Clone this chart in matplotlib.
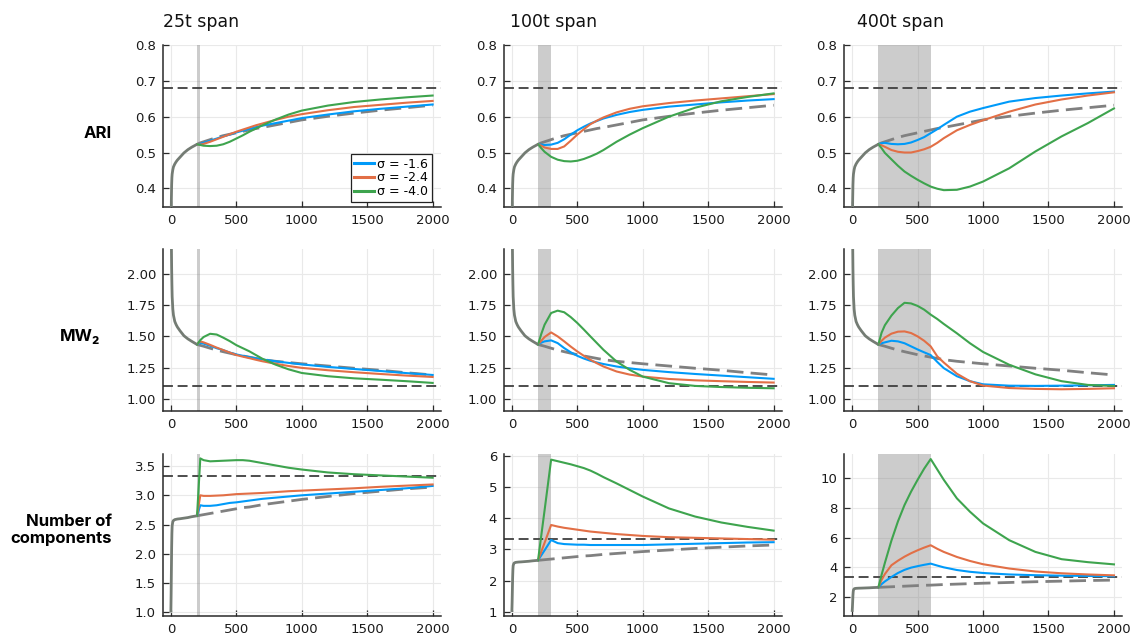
import matplotlib
matplotlib.use("Agg")
import matplotlib.pyplot as plt

# ---------------------------------------------------------------- data
# shared warm-up segment (before the perturbation starts at t = 200)
T_INIT = [0, 2, 4, 6, 8, 10, 15, 20, 30, 40, 50, 70, 100, 130, 160, 200]
ARI_INIT = [0.20, 0.30, 0.37, 0.41, 0.43, 0.44, 0.452, 0.46, 0.468, 0.474,
            0.479, 0.487, 0.499, 0.508, 0.515, 0.523]
MW2_INIT = [3.5, 2.6, 2.25, 2.05, 1.92, 1.82, 1.72, 1.67, 1.62, 1.595,
            1.575, 1.545, 1.505, 1.48, 1.46, 1.435]
NCOMP_INIT = [1.0, 1.3, 1.7, 2.1, 2.35, 2.48, 2.55, 2.57, 2.585, 2.59,
              2.595, 2.60, 2.61, 2.62, 2.635, 2.65]

# time grid after the perturbation onset
T_POST = [200, 225, 250, 300, 350, 400, 450, 500, 550, 600, 650, 700,
          800, 900, 1000, 1200, 1400, 1600, 1800, 2000]

# unperturbed reference trajectories
ARI_BASE = [.523, .527, .530, .536, .542, .547, .551, .555, .559, .563, .567,
            .570, .577, .584, .591, .601, .610, .618, .625, .632]
MW2_BASE = [1.435, 1.428, 1.421, 1.405, 1.390, 1.377, 1.365, 1.353, 1.343,
            1.333, 1.323, 1.313, 1.300, 1.290, 1.280, 1.262, 1.244, 1.228,
            1.208, 1.190]
NCOMP_BASE = [2.65, 2.66, 2.67, 2.69, 2.71, 2.73, 2.75, 2.77, 2.79, 2.80,
              2.82, 2.84, 2.87, 2.90, 2.93, 2.98, 3.03, 3.07, 3.11, 3.14]

# targets
ARI_TARGET = 0.68
MW2_TARGET = 1.10
NCOMP_TARGET = 3.33

SIGMAS = ["-1.6", "-2.4", "-4.0"]
SPANS = [25, 100, 400]

# ARI, 25t span
ari_25_s16 = [.523, .524, .527, .533, .539, .545, .550, .556, .561, .566, .571,
              .575, .582, .589, .596, .606, .615, .622, .628, .634]
ari_25_s24 = [.523, .522, .524, .530, .537, .544, .551, .558, .564, .570, .576,
              .581, .591, .600, .607, .618, .627, .633, .639, .644]
ari_25_s40 = [.523, .521, .519, .518, .519, .523, .530, .539, .548, .558, .567,
              .576, .592, .606, .617, .631, .641, .648, .654, .659]
# ARI, 100t span
ari_100_s16 = [.523, .522, .521, .522, .527, .537, .550, .562, .572, .581, .588,
               .595, .605, .613, .619, .628, .634, .640, .645, .649]
ari_100_s24 = [.523, .519, .514, .510, .510, .517, .533, .550, .565, .579, .589,
               .598, .612, .622, .629, .638, .645, .651, .657, .663]
ari_100_s40 = [.523, .512, .502, .488, .480, .476, .475, .477, .482, .489, .497,
               .507, .530, .550, .568, .600, .625, .643, .655, .665]
# ARI, 400t span
ari_400_s16 = [.523, .526, .527, .524, .523, .524, .528, .535, .543, .554, .565,
               .577, .600, .614, .624, .642, .652, .659, .665, .670]
ari_400_s24 = [.523, .520, .516, .507, .502, .500, .500, .504, .509, .516, .527,
               .540, .562, .577, .590, .614, .634, .648, .659, .668]
ari_400_s40 = [.523, .512, .499, .481, .463, .447, .435, .424, .414, .405, .399,
               .395, .396, .405, .419, .456, .503, .545, .582, .623]

# MW2, 25t span
mw2_25_s16 = [1.435, 1.447, 1.442, 1.425, 1.405, 1.390, 1.370, 1.355, 1.344,
              1.333, 1.323, 1.315, 1.300, 1.287, 1.275, 1.255, 1.238, 1.222,
              1.205, 1.190]
mw2_25_s24 = [1.435, 1.460, 1.452, 1.432, 1.410, 1.390, 1.370, 1.350, 1.337,
              1.325, 1.312, 1.300, 1.280, 1.262, 1.247, 1.228, 1.212, 1.198,
              1.185, 1.174]
mw2_25_s40 = [1.435, 1.470, 1.495, 1.521, 1.515, 1.490, 1.462, 1.430, 1.405,
              1.380, 1.350, 1.320, 1.273, 1.235, 1.206, 1.180, 1.163, 1.152,
              1.140, 1.126]
# MW2, 100t span
mw2_100_s16 = [1.435, 1.450, 1.460, 1.468, 1.446, 1.406, 1.372, 1.344, 1.322,
               1.304, 1.290, 1.278, 1.258, 1.243, 1.231, 1.213, 1.198, 1.185,
               1.172, 1.159]
mw2_100_s24 = [1.435, 1.465, 1.495, 1.532, 1.500, 1.460, 1.418, 1.379, 1.344,
               1.312, 1.284, 1.258, 1.218, 1.193, 1.177, 1.158, 1.147, 1.140,
               1.134, 1.129]
mw2_100_s40 = [1.435, 1.520, 1.594, 1.688, 1.707, 1.694, 1.655, 1.608, 1.555,
               1.500, 1.446, 1.392, 1.298, 1.231, 1.177, 1.124, 1.102, 1.093,
               1.087, 1.083]
# MW2, 400t span
mw2_400_s16 = [1.435, 1.445, 1.452, 1.465, 1.460, 1.445, 1.420, 1.395, 1.372,
               1.350, 1.295, 1.245, 1.180, 1.140, 1.115, 1.104, 1.102, 1.104,
               1.107, 1.110]
mw2_400_s24 = [1.435, 1.465, 1.490, 1.522, 1.538, 1.540, 1.527, 1.500, 1.465,
               1.420, 1.340, 1.290, 1.200, 1.140, 1.105, 1.085, 1.078, 1.075,
               1.078, 1.083]
mw2_400_s40 = [1.435, 1.530, 1.590, 1.667, 1.728, 1.770, 1.765, 1.745, 1.715,
               1.675, 1.640, 1.600, 1.525, 1.445, 1.375, 1.272, 1.195, 1.140,
               1.110, 1.102]

# number of components, 25t span
ncomp_25_s16 = [2.65, 2.83, 2.82, 2.82, 2.83, 2.85, 2.87, 2.88, 2.895, 2.91,
                2.925, 2.94, 2.96, 2.98, 3.00, 3.03, 3.06, 3.09, 3.12, 3.16]
ncomp_25_s24 = [2.65, 3.00, 2.99, 2.99, 2.995, 3.00, 3.01, 3.02, 3.025, 3.03,
                3.035, 3.04, 3.055, 3.07, 3.08, 3.10, 3.12, 3.145, 3.165, 3.185]
ncomp_25_s40 = [2.65, 3.63, 3.60, 3.58, 3.585, 3.59, 3.595, 3.60, 3.60, 3.59,
                3.57, 3.55, 3.51, 3.47, 3.44, 3.39, 3.36, 3.34, 3.32, 3.30]
# number of components, 100t span
ncomp_100_s16 = [2.65, 2.81, 2.97, 3.30, 3.20, 3.17, 3.16, 3.15, 3.15, 3.14,
                 3.14, 3.14, 3.14, 3.14, 3.14, 3.16, 3.18, 3.20, 3.22, 3.23]
ncomp_100_s24 = [2.65, 2.93, 3.21, 3.78, 3.73, 3.69, 3.66, 3.63, 3.60, 3.57,
                 3.55, 3.53, 3.49, 3.46, 3.43, 3.39, 3.37, 3.35, 3.33, 3.31]
ncomp_100_s40 = [2.65, 3.45, 4.25, 5.87, 5.82, 5.77, 5.72, 5.66, 5.60, 5.52,
                 5.42, 5.31, 5.11, 4.90, 4.69, 4.31, 4.05, 3.86, 3.72, 3.60]
# number of components, 400t span
ncomp_400_s16 = [2.65, 2.87, 3.05, 3.35, 3.62, 3.83, 3.98, 4.08, 4.17, 4.25,
                 4.12, 4.00, 3.82, 3.70, 3.62, 3.52, 3.47, 3.44, 3.42, 3.40]
ncomp_400_s24 = [2.65, 3.15, 3.55, 4.14, 4.45, 4.72, 4.95, 5.15, 5.33, 5.49,
                 5.25, 5.04, 4.70, 4.43, 4.21, 3.92, 3.72, 3.60, 3.52, 3.46]
ncomp_400_s40 = [2.65, 3.50, 4.30, 5.80, 7.10, 8.20, 9.10, 9.90, 10.65, 11.30,
                 10.60, 9.90, 8.65, 7.75, 6.96, 5.83, 5.04, 4.55, 4.35, 4.20]

# ---------------------------------------------------------------- style
BLUE, ORANGE, GREEN = "#009af9", "#e26f46", "#3ea44e"
COLORS = [BLUE, ORANGE, GREEN]
GRAY_SOLID = "#747c74"
GRAY_DASH = "#808080"
TARGET_COLOR = "#3f3f3f"

plt.rcParams["font.family"] = ["DejaVu Sans"]

W, H = 1132, 637
fig = plt.figure(figsize=(W / 100, H / 100), dpi=100)

col_left = [163, 504, 844.3]
col_width = 277.5
row_top = [45, 249.3, 454]
row_height = 162

rows = [
    dict(init=ARI_INIT, base=ARI_BASE, target=ARI_TARGET,
         series=[[ari_25_s16, ari_25_s24, ari_25_s40],
                 [ari_100_s16, ari_100_s24, ari_100_s40],
                 [ari_400_s16, ari_400_s24, ari_400_s40]],
         ylims=[(0.348, 0.8)] * 3,
         yticks=[[0.4, 0.5, 0.6, 0.7, 0.8]] * 3,
         fmt="{:.1f}"),
    dict(init=MW2_INIT, base=MW2_BASE, target=MW2_TARGET,
         series=[[mw2_25_s16, mw2_25_s24, mw2_25_s40],
                 [mw2_100_s16, mw2_100_s24, mw2_100_s40],
                 [mw2_400_s16, mw2_400_s24, mw2_400_s40]],
         ylims=[(0.898, 2.2)] * 3,
         yticks=[[1.0, 1.25, 1.5, 1.75, 2.0]] * 3,
         fmt="{:.2f}"),
    dict(init=NCOMP_INIT, base=NCOMP_BASE, target=NCOMP_TARGET,
         series=[[ncomp_25_s16, ncomp_25_s24, ncomp_25_s40],
                 [ncomp_100_s16, ncomp_100_s24, ncomp_100_s40],
                 [ncomp_400_s16, ncomp_400_s24, ncomp_400_s40]],
         ylims=[(0.94, 3.705), (0.87, 6.05), (0.72, 11.64)],
         yticks=[[1.0, 1.5, 2.0, 2.5, 3.0, 3.5], [1, 2, 3, 4, 5, 6],
                 [2, 4, 6, 8, 10]],
         fmt=None),
]
ncomp_fmts = ["{:.1f}", "{:d}", "{:d}"]

for r, row in enumerate(rows):
    for c, span in enumerate(SPANS):
        left = col_left[c] / W
        bottom = 1 - (row_top[r] + row_height) / H
        ax = fig.add_axes([left, bottom, col_width / W, row_height / H])

        ax.axvspan(200, 200 + span, color="0.5", alpha=0.4, lw=0, zorder=1)
        ax.axhline(row["target"], color=TARGET_COLOR, lw=1.3,
                   dashes=(5.5, 2.6), zorder=2)
        ax.plot(T_POST, row["base"], color=GRAY_DASH, lw=2.0,
                dashes=(6, 2.6), zorder=3)
        for vals, col, sig in zip(row["series"][c], COLORS, SIGMAS):
            ax.plot(T_POST, vals, color=col, lw=1.5, label=f"σ = {sig}",
                    zorder=4, solid_joinstyle="round")
        ax.plot(T_INIT, row["init"], color=GRAY_SOLID, lw=2.0, zorder=5,
                solid_capstyle="butt")

        ax.set_xlim(-60, 2060)
        ax.set_ylim(*row["ylims"][c])
        ax.set_xticks([0, 500, 1000, 1500, 2000])
        yt = row["yticks"][c]
        ax.set_yticks(yt)
        fmt = row["fmt"] if row["fmt"] else ncomp_fmts[c]
        ax.set_yticklabels([fmt.format(int(v)) if fmt == "{:d}" else fmt.format(v)
                            for v in yt])

        ax.grid(True, color="#e9e9e9", lw=0.8, zorder=0)
        ax.set_axisbelow(True)
        for side in ("top", "right"):
            ax.spines[side].set_visible(False)
        for side in ("left", "bottom"):
            ax.spines[side].set_color("#2a2a2a")
            ax.spines[side].set_linewidth(1.1)
        ax.tick_params(direction="in", length=4, width=0.9, color="#2a2a2a",
                       labelsize=9.5, labelcolor="#1a1a1a", pad=5)

        if r == 0 and c == 0:
            leg = ax.legend(loc="lower right", bbox_to_anchor=(0.97, 0.033),
                            borderaxespad=0, fontsize=9, handlelength=1.6,
                            handletextpad=0.25, labelspacing=0.05,
                            borderpad=0.3, fancybox=False, framealpha=1)
            leg.get_frame().set_edgecolor("#222222")
            leg.get_frame().set_linewidth(0.9)
            for line in leg.get_lines():
                line.set_linewidth(2.2)

# column titles
for x_px, txt in zip([163, 510, 857], ["25t span", "100t span", "400t span"]):
    fig.text(x_px / W, 1 - 22 / H, txt, ha="left", va="center", fontsize=12.5,
             color="#111111")

# row labels
label_font = ["Inter", "DejaVu Sans"]
fig.text(112 / W, 1 - 133 / H, "ARI", ha="right", va="center", fontsize=12,
         fontweight="bold", family=label_font)
fig.text(100 / W, 1 - 337 / H, "MW₂", ha="right", va="center", fontsize=12,
         fontweight="bold", family=label_font)
fig.text(112 / W, 1 - 530 / H, "Number of\ncomponents", ha="right",
         va="center", fontsize=12, fontweight="bold", family=label_font,
         linespacing=1.25)

fig.savefig("out.png", dpi=100)
